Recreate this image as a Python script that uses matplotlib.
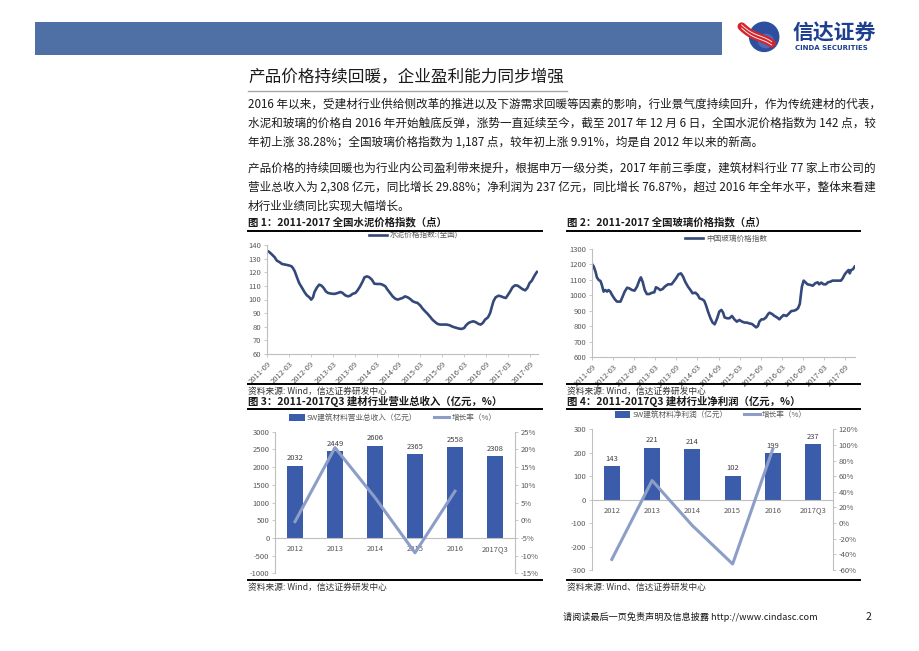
import numpy as np
import matplotlib
matplotlib.use("Agg")
import matplotlib.pyplot as plt
from matplotlib.lines import Line2D
from matplotlib.patches import Rectangle, Ellipse

plt.rcParams['font.family'] = ['Noto Sans CJK SC', 'DejaVu Sans']
plt.rcParams['axes.unicode_minus'] = False

W, H = 920, 651

# ---------------------------------------------------------------------------
# Data
# ---------------------------------------------------------------------------
date_labels = ['2011-09', '2012-03', '2012-09', '2013-03', '2013-09', '2014-03', '2014-09',
               '2015-03', '2015-09', '2016-03', '2016-09', '2017-03', '2017-09']

# months since 2011-09
cement_month = [0, 0.6, 1.4, 2.1, 2.7, 3.4, 4.1, 5.0, 5.9, 6.7, 7.1, 7.6, 8.2, 8.8, 9.6, 10.3,
                10.9, 11.6, 12.1, 12.6, 13.0, 13.7, 14.3, 14.9, 15.5, 16.1, 16.7, 17.6, 18.5,
                19.4, 20.1, 20.7, 21.4, 22.2, 22.8, 23.4, 24.2, 24.8, 25.5, 26.2, 26.7, 27.4,
                28.0, 28.7, 29.4, 30.1, 31.0, 31.6, 32.4, 33.0, 33.7, 34.4, 35.1, 35.8, 36.5,
                37.1, 37.8, 38.5, 39.2, 39.9, 40.6, 41.2, 42.0, 42.6, 43.3, 44.0, 44.7, 45.3,
                46.1, 46.7, 47.4, 48.3, 49.2, 50.0, 50.6, 51.3, 52.0, 52.6, 53.3, 54.0, 54.5,
                55.2, 55.8, 56.5, 57.2, 57.9, 58.5, 59.1, 59.7, 60.5, 61.1, 61.6, 62.0, 62.6,
                63.4, 64.1, 64.7, 65.4, 65.9, 66.6, 67.2, 67.9, 68.6, 69.3, 69.9, 70.7, 71.3,
                71.9, 72.5, 73.0, 73.4, 73.9]
cement_index = [135.8, 134.9, 132.9, 131.0, 128.5, 127.5, 126.1, 125.6, 125.1, 124.4, 123.1,
                120.7, 116.3, 112.1, 108.5, 105.3, 103.1, 101.6, 99.9, 101.6, 105.5, 108.9,
                110.9, 110.2, 108.5, 106.0, 104.8, 104.3, 104.1, 104.8, 105.5, 104.8, 103.1,
                102.3, 102.8, 104.1, 104.8, 106.7, 109.7, 113.3, 116.3, 117.0, 116.3, 114.6,
                111.6, 111.4, 111.4, 110.9, 109.7, 107.2, 104.8, 102.3, 100.6, 99.9, 100.6,
                101.1, 102.3, 101.6, 100.4, 98.7, 97.9, 97.5, 95.5, 93.3, 91.3, 89.4, 87.2,
                85.2, 83.3, 82.1, 81.6, 81.6, 81.6, 81.1, 80.3, 79.6, 79.1, 78.6, 78.4, 79.1,
                81.1, 82.8, 83.5, 84.0, 83.3, 82.1, 81.6, 82.8, 85.2, 86.9, 90.1, 95.0, 98.7,
                101.6, 102.8, 102.3, 101.6, 101.1, 103.1, 106.0, 108.9, 110.4, 110.2, 108.9,
                107.7, 106.7, 108.5, 112.1, 113.8, 116.3, 118.2, 120.2]

glass_month = [0, 0.5, 1.0, 1.4, 1.9, 2.4, 2.8, 3.3, 3.8, 4.3, 4.7, 5.2, 5.7, 6.5, 7.1, 8.1,
               8.5, 9.3, 10.0, 10.6, 11.4, 12.1, 12.8, 13.5, 13.9, 14.4, 15.0, 15.6, 16.3,
               17.1, 17.7, 18.2, 18.8, 19.4, 20.1, 20.7, 21.6, 22.6, 23.2, 23.9, 24.6, 25.3,
               25.9, 26.5, 27.3, 28.0, 28.6, 29.4, 30.1, 30.6, 31.3, 31.9, 32.4, 33.0, 33.7,
               34.3, 34.9, 35.6, 36.2, 36.8, 37.3, 37.7, 38.4, 39.1, 39.8, 40.5, 41.2, 41.9,
               42.7, 43.4, 44.1, 44.7, 45.5, 46.2, 46.7, 47.2, 47.6, 48.2, 48.8, 49.5, 50.1,
               50.5, 51.2, 51.9, 52.6, 53.3, 53.8, 54.5, 55.3, 55.9, 56.7, 57.4, 58.0, 58.6,
               59.1, 59.4, 59.7, 60.2, 60.7, 61.3, 62.1, 62.8, 63.5, 64.2, 64.6, 65.2, 65.9,
               66.5, 67.1, 67.8, 68.4, 69.2, 70.1, 70.8, 71.3, 71.9, 72.5, 73.0, 73.3, 73.7,
               74.2, 74.7]
glass_index = [1203, 1186, 1153, 1116, 1099, 1093, 1067, 1024, 1034, 1024, 1034, 1024, 1002,
               974, 959, 959, 980, 1024, 1049, 1045, 1034, 1030, 1056, 1099, 1116, 1088, 1034,
               1008, 1008, 1017, 1019, 1052, 1045, 1034, 1041, 1056, 1071, 1071, 1088, 1110,
               1136, 1142, 1121, 1088, 1056, 1034, 1013, 1017, 1002, 980, 974, 965, 937, 894,
               851, 823, 812, 851, 894, 905, 887, 857, 851, 851, 866, 844, 829, 840, 829, 823,
               823, 818, 814, 801, 792, 801, 829, 844, 844, 857, 879, 887, 879, 866, 857, 844,
               857, 872, 866, 879, 898, 900, 905, 916, 944, 1002, 1056, 1095, 1084, 1071, 1067,
               1062, 1078, 1084, 1071, 1082, 1071, 1071, 1084, 1088, 1095, 1095, 1095, 1095,
               1110, 1136, 1153, 1164, 1142, 1164, 1168, 1186]

years = ['2012', '2013', '2014', '2015', '2016', '2017Q3']
revenue = [2032, 2449, 2606, 2365, 2558, 2308]
revenue_growth = [-0.4, 20.5, 6.4, -9.2, 8.2]
profit = [143, 221, 214, 102, 199, 237]
profit_growth = [-46.4, 54.5, -3.2, -52.3, 95.1]

body_lines = [
    "2016 年以来，受建材行业供给侧改革的推进以及下游需求回暖等因素的影响，行业景气度持续回升，作为传统建材的代表，",
    "水泥和玻璃的价格自 2016 年开始触底反弹，涨势一直延续至今，截至 2017 年 12 月 6 日，全国水泥价格指数为 142 点，较",
    "年初上涨 38.28%；全国玻璃价格指数为 1,187 点，较年初上涨 9.91%，均是自 2012 年以来的新高。",
    "产品价格的持续回暖也为行业内公司盈利带来提升，根据申万一级分类，2017 年前三季度，建筑材料行业 77 家上市公司的",
    "营业总收入为 2,308 亿元，同比增长 29.88%；净利润为 237 亿元，同比增长 76.87%，超过 2016 年全年水平，整体来看建",
    "材行业业绩同比实现大幅增长。",
]

NAVY = '#34497a'
BAR = '#3a5caa'
LIGHT = '#8c9ec8'
GRAY = '#595959'
AXIS = '#bfbfbf'

fig = plt.figure(figsize=(W / 100, H / 100), dpi=100)


def fx(x):
    return x / W


def fy(y):
    return 1 - y / H


def px_axes(x0, y0, x1, y1):
    return fig.add_axes([fx(x0), fy(y1), (x1 - x0) / W, (y1 - y0) / H])


def hline(x0, x1, y, color='black', lw=1.0):
    fig.add_artist(Line2D([fx(x0), fx(x1)], [fy(y), fy(y)], color=color, lw=lw))


def put(x, y, s, **kw):
    kw.setdefault('va', 'center')
    fig.text(fx(x), fy(y), s, **kw)


# ---------------------------------------------------------------------------
# Page header
# ---------------------------------------------------------------------------
fig.add_artist(Rectangle((fx(35), fy(55)), (722 - 35) / W, 33 / H, color='#4f70a4', lw=0))

logo = px_axes(735, 19, 785, 53)
logo.set_xlim(-1.5, 1.5)
logo.set_ylim(-1.02, 1.02)
logo.axis('off')
logo.add_patch(Ellipse((0.25, -0.05), 1.75, 1.75, color='#2d4f9d'))
logo.add_patch(Ellipse((0.35, -0.3), 0.9, 0.8, color='#4a6cb6'))
t = np.linspace(-1.1, 0.7, 60)
band = -0.7 * t - 0.1 + 0.15 * np.sin(2.2 * t)
logo.plot(t, band, color='#d5262d', lw=6.0, solid_capstyle='round')
logo.plot(t, band + 0.1, color='white', lw=0.6)
logo.plot(t, band - 0.1, color='white', lw=0.6)

put(793, 33, '信达证券', fontsize=15, fontweight='bold', color='#1d3f8f')
put(795, 48.5, 'CINDA SECURITIES', fontsize=5.0, fontweight='bold', color='#1d3f8f',
    family=['DejaVu Sans'])

put(248, 78, '产品价格持续回暖，企业盈利能力同步增强', fontsize=12, color='#1a1a1a')
hline(248, 567, 91, color='#a6a6a6', lw=1.0)

for i, line in enumerate(body_lines):
    y = [104, 123, 142, 168, 187, 206][i]
    put(248, y, line, fontsize=8.35, color='#1a1a1a')


# ---------------------------------------------------------------------------
# Line charts: cement / glass price index
# ---------------------------------------------------------------------------
def style_line_axes(ax, ylim, yticks, xmax):
    ax.set_xlim(0, xmax)
    ax.set_ylim(*ylim)
    ax.set_yticks(yticks)
    ax.set_xticks(np.arange(0, 73, 6))
    ax.set_xticklabels(date_labels, rotation=45, ha='right', rotation_mode='anchor')
    for s in ['top', 'right']:
        ax.spines[s].set_visible(False)
    for s in ['left', 'bottom']:
        ax.spines[s].set_color(AXIS)
        ax.spines[s].set_linewidth(0.8)
    ax.tick_params(labelsize=5.5, labelcolor=GRAY, color=AXIS, length=2, width=0.6, pad=2)


ax1 = px_axes(267, 245, 538, 354)
ax1.plot(cement_month, cement_index, color=NAVY, lw=1.9, label='水泥价格指数:(全国)')
style_line_axes(ax1, (60, 140), np.arange(60, 141, 10), 74.2)
ax1.legend(loc='center', bbox_to_anchor=(fx(414), fy(236)), bbox_transform=fig.transFigure,
           frameon=False, fontsize=5.5, handlelength=2.3, handletextpad=0.4, borderpad=0,
           labelcolor=GRAY)

ax2 = px_axes(592, 249, 855, 357)
ax2.plot(glass_month, glass_index, color=NAVY, lw=1.9, label='中国玻璃价格指数')
style_line_axes(ax2, (600, 1300), np.arange(600, 1301, 100), 74.8)
ax2.legend(loc='center', bbox_to_anchor=(fx(726), fy(239)), bbox_transform=fig.transFigure,
           frameon=False, fontsize=5.5, handlelength=2.3, handletextpad=0.4, borderpad=0,
           labelcolor=GRAY)


# ---------------------------------------------------------------------------
# Bar + growth charts
# ---------------------------------------------------------------------------
def bar_chart(ax, values, growth, ylim, ystep, rlim, rstep, bar_label, legend_xy, pad):
    x = np.arange(len(years))
    bars = ax.bar(x, values, width=0.4, color=BAR, zorder=2)
    for xi, v in zip(x, values):
        ax.annotate(str(v), (xi, v), xytext=(0, 2.5), textcoords='offset points',
                    ha='center', va='bottom', fontsize=5.5, color='#404040')
    ax.set_xlim(-0.5, len(years) - 0.5)
    ax.set_ylim(*ylim)
    ax.set_yticks(np.arange(ylim[0], ylim[1] + 1, ystep))
    ax.set_xticks(x)
    ax.set_xticklabels(years)
    ax.spines['bottom'].set_position(('data', 0))
    ax.spines['bottom'].set_color(AXIS)
    ax.spines['left'].set_color(AXIS)
    ax.spines['top'].set_visible(False)
    ax.spines['right'].set_visible(False)
    ax.tick_params(axis='x', length=0, pad=pad, labelsize=5.5, labelcolor=GRAY)
    ax.tick_params(axis='y', length=2, width=0.6, color=AXIS, pad=2, labelsize=5.5,
                   labelcolor=GRAY)

    axr = ax.twinx()
    line, = axr.plot(np.arange(len(growth)), growth, color=LIGHT, lw=2.2)
    axr.set_ylim(*rlim)
    rt = np.arange(rlim[0], rlim[1] + 1, rstep)
    axr.set_yticks(rt)
    axr.set_yticklabels([f'{v}%' for v in rt])
    for s in ['top', 'bottom', 'left']:
        axr.spines[s].set_visible(False)
    axr.spines['right'].set_color(AXIS)
    axr.tick_params(axis='y', length=2, width=0.6, color=AXIS, pad=2, labelsize=5.5,
                    labelcolor=GRAY)

    ax.legend([bars, line], [bar_label, '增长率（%）'], ncol=2, loc='center',
              bbox_to_anchor=(fx(legend_xy[0]), fy(legend_xy[1])),
              bbox_transform=fig.transFigure, frameon=False, fontsize=5.5,
              handlelength=2.0, handleheight=0.9, handletextpad=0.3, columnspacing=2.2,
              borderpad=0, labelcolor=GRAY)


ax3 = px_axes(275, 431.7, 515, 573.3)
bar_chart(ax3, revenue, revenue_growth, (-1000, 3000), 500, (-15, 25), 5,
          'SW建筑材料营业总收入（亿元）', (393, 418), 5)

ax4 = px_axes(591.7, 429.3, 833.3, 570)
bar_chart(ax4, profit, profit_growth, (-300, 300), 100, (-60, 120), 20,
          'SW建筑材料净利润（亿元）', (711, 415), 5)

# ---------------------------------------------------------------------------
# Captions, rules and sources
# ---------------------------------------------------------------------------
cap = dict(fontsize=7.5, fontweight='bold', color='#1a1a1a')
src = dict(fontsize=6.3, color='#333333')

put(248, 222.5, '图 1：2011-2017 全国水泥价格指数（点）', **cap)
put(567, 222.5, '图 2：2011-2017 全国玻璃价格指数（点）', **cap)
hline(248, 542, 231, lw=1.4)
hline(567, 860, 231, lw=1.4)
hline(248, 542, 384, lw=1.4)
hline(567, 860, 384, lw=1.4)
put(248, 391.5, '资料来源: Wind，信达证券研发中心', **src)
put(567, 391.5, '资料来源: Wind，信达证券研发中心', **src)

put(248, 401.5, '图 3：2011-2017Q3 建材行业营业总收入（亿元，%）', **cap)
put(567, 401.5, '图 4：2011-2017Q3 建材行业净利润（亿元，%）', **cap)
hline(248, 542, 409, lw=1.4)
hline(567, 860, 409, lw=1.4)
hline(248, 542, 579.5, lw=1.4)
hline(567, 860, 579.5, lw=1.4)
put(248, 587, '资料来源: Wind，信达证券研发中心', **src)
put(567, 587, '资料来源: Wind、信达证券研发中心', **src)

put(563, 617, '请阅读最后一页免责声明及信息披露 http://www.cindasc.com', fontsize=6.6,
    color='#1a1a1a')
put(866, 617, '2', fontsize=7.5, color='#1a1a1a')

fig.savefig('out.png', dpi=100)
